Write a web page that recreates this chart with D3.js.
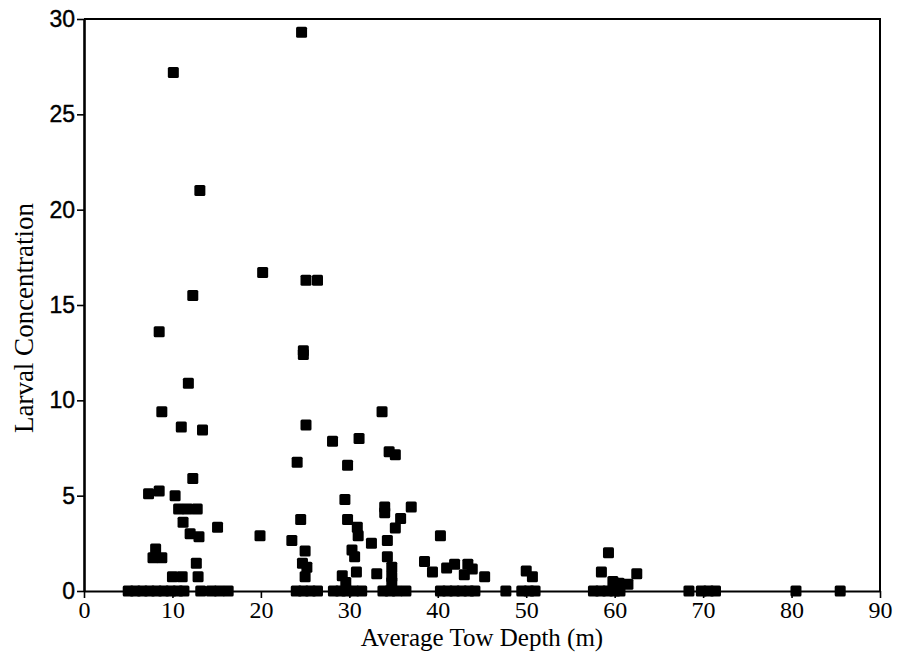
<!DOCTYPE html>
<html>
<head>
<meta charset="utf-8">
<script src="https://cdn.jsdelivr.net/npm/d3@7"></script>
<style>
  html, body { margin: 0; padding: 0; background: #fff; }
  svg { display: block; }
</style>
</head>
<body>
<svg id="chart" width="900" height="658"></svg>
<script>
// Tows with larvae present: average tow depth (m) and larval concentration
const depths = [
  10.1, 13.1, 24.6, 20.2, 12.3, 25.1, 26.4, 8.5, 24.8, 24.8, 11.8, 25.1,
  33.7, 28.1, 31.1, 34.5, 35.2, 24.1, 29.8, 29.5, 34.0, 34.0, 37.0, 24.5,
  29.8, 35.8, 35.2, 30.9, 31.0, 19.9, 23.5, 32.5, 34.3, 40.3, 25.0, 30.3,
  30.6, 34.3, 38.5, 24.7, 25.2, 34.8, 39.4, 41.0, 41.9, 43.4, 43.0, 43.9,
  45.3, 30.8, 33.1, 25.0, 29.2, 34.8, 29.6, 34.8,
  8.8, 11.0, 13.4, 12.3, 7.3, 8.5, 10.3, 10.7, 11.7, 12.8, 11.2, 15.1,
  12.0, 13.0, 8.1, 7.8, 8.8, 12.7, 10.0, 11.1, 12.9,
  50.0, 50.7, 59.3, 58.5, 62.5, 59.8, 60.5, 61.5, 60.2
];
const concentrations = [
  27.2, 21.0, 29.3, 16.7, 15.5, 16.3, 16.3, 13.6, 12.6, 12.4, 10.9, 8.7,
  9.4, 7.85, 8.0, 7.3, 7.15, 6.75, 6.6, 4.8, 4.4, 4.1, 4.4, 3.75,
  3.75, 3.8, 3.3, 3.35, 2.9, 2.9, 2.65, 2.5, 2.65, 2.9, 2.1, 2.15,
  1.8, 1.8, 1.55, 1.45, 1.25, 1.25, 1.0, 1.2, 1.4, 1.4, 0.85, 1.15,
  0.75, 1.0, 0.9, 0.75, 0.8, 0.75, 0.45, 0.45,
  9.4, 8.6, 8.45, 5.9, 5.1, 5.25, 5.0, 4.3, 4.3, 4.3, 3.6, 3.35,
  3.0, 2.85, 2.2, 1.75, 1.75, 1.45, 0.75, 0.75, 0.75,
  1.05, 0.75, 2.0, 1.0, 0.9, 0.5, 0.4, 0.35, 0.2
];
// Tows with no larvae caught (concentration 0)
const emptyTowDepths = [
  5.0, 5.8, 6.6, 7.4, 8.2, 9.0, 9.8, 10.6, 11.3, 13.2,
  14.4, 15.3, 16.3, 24.0, 24.8, 25.6, 26.4, 28.2, 29.0, 29.7,
  30.5, 31.4, 33.8, 34.6, 35.4, 36.4, 40.3, 41.1, 41.9, 42.7,
  43.5, 44.2, 47.7, 49.5, 50.3, 51.0, 57.6, 58.4, 59.2, 60.0,
  60.6, 68.4, 69.8, 70.6, 71.4, 80.5, 85.5
];
const xTicks = [0, 10, 20, 30, 40, 50, 60, 70, 80, 90];
const yTicks = [0, 5, 10, 15, 20, 25, 30];

const svg = d3.select("#chart");
const plotLeft = 84, plotRight = 880, plotTop = 19, plotBottom = 591;

const x = d3.scaleLinear().domain([0, 90]).range([plotLeft, plotRight]);
const y = d3.scaleLinear().domain([0, 30]).range([plotBottom, plotTop]);

// all tows, zero catches included
const points = depths.map((d, i) => ({ depth: d, conc: concentrations[i] }))
  .concat(emptyTowDepths.map(d => ({ depth: d, conc: 0 })));

// frame: top and right edges
svg.append("path")
  .attr("d", `M${plotLeft},${plotTop}H${plotRight}V${plotBottom}`)
  .attr("fill", "none").attr("stroke", "#000").attr("stroke-width", 2);

// x axis
const gx = svg.append("g")
  .attr("transform", `translate(0,${plotBottom})`)
  .call(d3.axisBottom(x).tickValues(xTicks).tickSize(7).tickSizeOuter(0).tickPadding(3));
gx.select(".domain").attr("stroke-width", 2.2);
gx.selectAll(".tick line").attr("stroke-width", 1.6);
gx.selectAll(".tick text")
  .attr("font-family", "'Liberation Serif', 'Times New Roman', serif")
  .attr("font-size", 24).attr("fill", "#000");

// y axis
const gy = svg.append("g")
  .attr("transform", `translate(${plotLeft},0)`)
  .call(d3.axisLeft(y).tickValues(yTicks).tickSize(7).tickSizeOuter(0).tickPadding(2));
gy.select(".domain").attr("stroke-width", 2.6);
gy.selectAll(".tick line").attr("stroke-width", 1.6);
gy.selectAll(".tick text")
  .attr("font-family", "'Liberation Sans', Arial, sans-serif")
  .attr("font-size", 23).attr("fill", "#000")
  .attr("stroke", "#000").attr("stroke-width", 0.4);

// axis titles
svg.append("text")
  .attr("x", (plotLeft + plotRight) / 2).attr("y", 646)
  .attr("text-anchor", "middle")
  .attr("font-family", "'Liberation Serif', 'Times New Roman', serif")
  .attr("font-size", 25).attr("fill", "#000")
  .text("Average Tow Depth (m)");

svg.append("text")
  .attr("transform", "translate(33,318) rotate(-90)")
  .attr("text-anchor", "middle")
  .attr("font-family", "'Liberation Serif', 'Times New Roman', serif")
  .attr("font-size", 27).attr("fill", "#000")
  .text("Larval Concentration");

// square markers
const s = 11;
svg.append("g").selectAll("rect")
  .data(points).join("rect")
  .attr("x", d => x(d.depth) - s / 2)
  .attr("y", d => y(d.conc) - s / 2)
  .attr("width", s).attr("height", s)
  .attr("rx", 1.5)
  .attr("fill", "#000");
</script>
</body>
</html>
